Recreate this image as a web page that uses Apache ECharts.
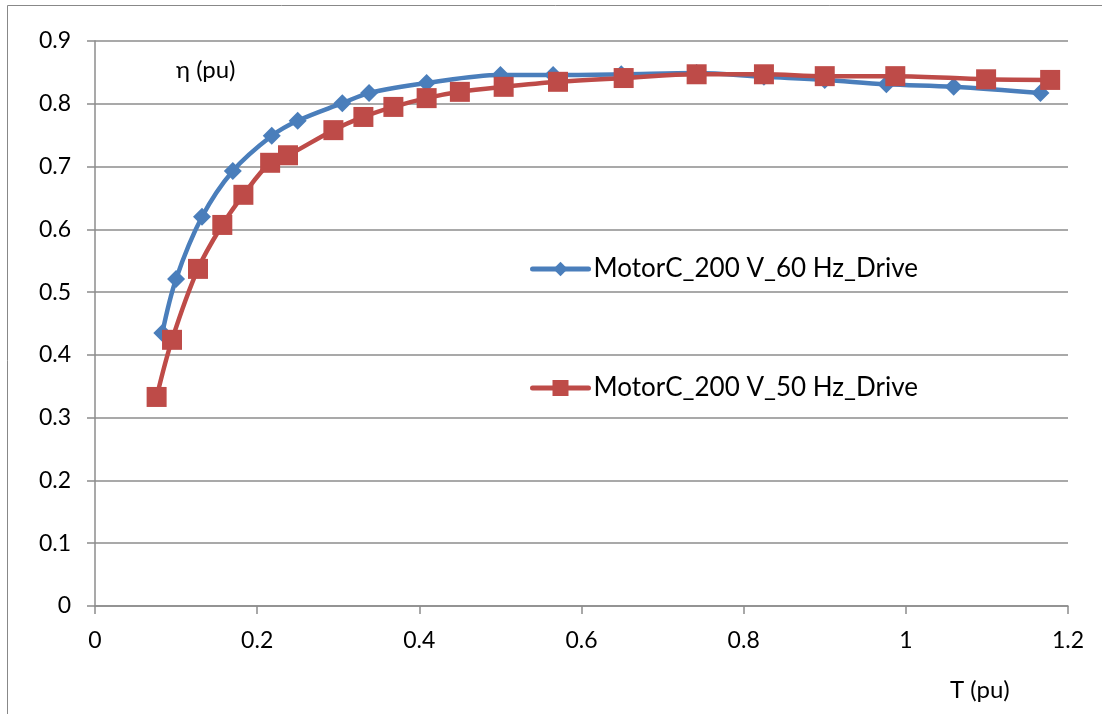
<!DOCTYPE html>
<html>
<head>
<meta charset="utf-8">
<style>
  html, body { margin: 0; padding: 0; background: #fff; }
  #chart { width: 1102px; height: 714px; }
</style>
<script src="https://cdn.jsdelivr.net/npm/echarts@6/dist/echarts.min.js"></script>
</head>
<body>
<div id="chart"></div>
<script>
// Torque (pu) and efficiency (pu) for the 60 Hz drive
const torque60 = [0.083, 0.100, 0.132, 0.170, 0.218, 0.250, 0.305, 0.338, 0.409, 0.500, 0.565, 0.649, 0.742, 0.825, 0.900, 0.976, 1.059, 1.166];
const eta60    = [0.435, 0.521, 0.620, 0.693, 0.749, 0.773, 0.801, 0.817, 0.833, 0.846, 0.846, 0.847, 0.849, 0.843, 0.838, 0.831, 0.827, 0.817];

// Torque (pu) and efficiency (pu) for the 50 Hz drive
const torque50 = [0.076, 0.095, 0.127, 0.157, 0.183, 0.216, 0.238, 0.294, 0.331, 0.368, 0.409, 0.450, 0.504, 0.571, 0.652, 0.742, 0.825, 0.900, 0.987, 1.099, 1.178];
const eta50    = [0.333, 0.424, 0.537, 0.607, 0.655, 0.706, 0.718, 0.758, 0.779, 0.795, 0.809, 0.819, 0.827, 0.835, 0.841, 0.847, 0.847, 0.844, 0.844, 0.839, 0.838];

const seriesNames = ['MotorC_200 V_60 Hz_Drive', 'MotorC_200 V_50 Hz_Drive'];
const xTicks = [0, 0.2, 0.4, 0.6, 0.8, 1, 1.2];

const pairs = (xs, ys) => xs.map((x, i) => [x, ys[i]]);

const FONT = 'Lato, "Liberation Sans", sans-serif';
const GRID = '#8c8c8c';
const BLUE = '#4a7ebb';
const RED = '#be4b48';

const chart = echarts.init(document.getElementById('chart'), null, { renderer: 'canvas' });

const legendBase = {
  orient: 'vertical', left: 530, padding: 0, itemWidth: 56, itemGap: 4,
  lineStyle: { width: 5, cap: 'round' },
  textStyle: { fontFamily: FONT, fontSize: 26, color: '#000' }
};

chart.setOption({
  backgroundColor: '#fff',
  animation: false,
  graphic: [{
    type: 'rect',
    shape: { x: 7.5, y: 5.5, width: 1120, height: 740 },
    style: { fill: 'none', stroke: '#888', lineWidth: 1 },
    silent: true, z: -1
  }],
  title: [
    { text: 'η (pu)', left: 171, top: 53, textStyle: { fontFamily: FONT, fontSize: 24, fontWeight: 'normal', color: '#000' } },
    { text: 'T (pu)', left: 945, top: 673, textStyle: { fontFamily: FONT, fontSize: 24, fontWeight: 'normal', color: '#000' } }
  ],
  legend: [
    Object.assign({}, legendBase, { data: [seriesNames[0]], top: 256, itemHeight: 18 }),
    Object.assign({}, legendBase, { data: [seriesNames[1]], top: 375, itemHeight: 20 })
  ],
  grid: { left: 95, right: 34, top: 41, bottom: 108, containLabel: false },
  xAxis: {
    type: 'value', min: 0, max: 1.2, interval: 0.2,
    axisLine: { show: true, lineStyle: { color: GRID, width: 1.5 } },
    axisTick: { show: true, length: 8, inside: false, lineStyle: { color: GRID, width: 1.5 } },
    splitLine: { show: false },
    axisLabel: {
      margin: 23, color: '#000', fontFamily: FONT, fontSize: 23,
      formatter: v => { const t = xTicks.find(k => Math.abs(k - v) < 1e-9); return t === undefined ? '' : String(t); }
    }
  },
  yAxis: {
    type: 'value', min: 0, max: 0.9, interval: 0.1,
    axisLine: { show: true, lineStyle: { color: GRID, width: 1.5 } },
    axisTick: { show: true, length: 8, inside: false, lineStyle: { color: GRID, width: 1.5 } },
    splitLine: { show: true, lineStyle: { color: GRID, width: 1.5 } },
    axisLabel: {
      margin: 24, color: '#000', fontFamily: FONT, fontSize: 23,
      formatter: v => String(Math.round(v * 10) / 10)
    }
  },
  series: [
    {
      name: seriesNames[0], type: 'line', smooth: 0.35,
      data: pairs(torque60, eta60),
      symbol: 'diamond', symbolSize: 18,
      lineStyle: { color: BLUE, width: 4.5 },
      itemStyle: { color: BLUE },
      z: 2
    },
    {
      name: seriesNames[1], type: 'line', smooth: 0.35,
      data: pairs(torque50, eta50),
      symbol: 'rect', symbolSize: 20,
      lineStyle: { color: RED, width: 4.5 },
      itemStyle: { color: RED },
      z: 3
    }
  ]
});
</script>
</body>
</html>
